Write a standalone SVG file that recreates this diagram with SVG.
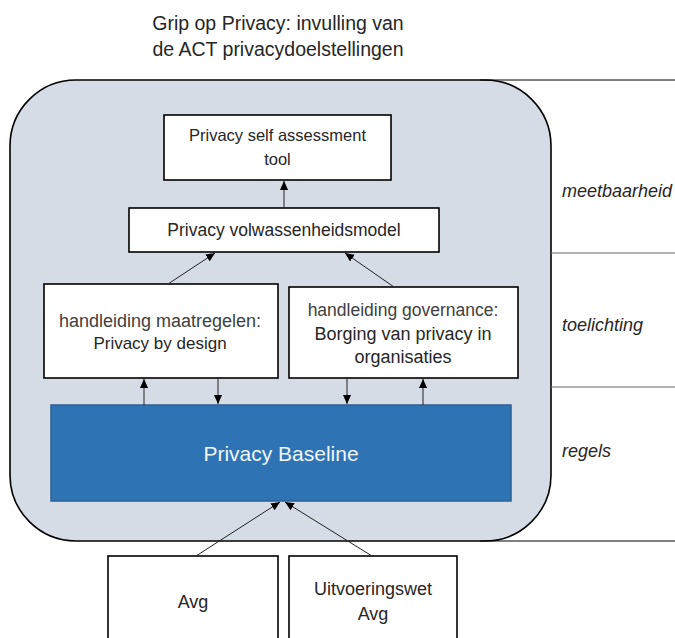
<svg xmlns="http://www.w3.org/2000/svg" width="675" height="638" viewBox="0 0 675 638">
<defs>
<style>
text{font-family:"Liberation Sans",Arial,sans-serif;fill:#262626}
.t{font-size:19.5px;text-anchor:middle}
.n{font-size:17.5px;text-anchor:middle}
.g{fill:#404040}
.lab{font-size:18px;font-style:italic}
.box{fill:#fff;stroke:#000;stroke-width:1.6}
.c{stroke:#222;stroke-width:1;fill:none;marker-end:url(#ah)}
.sep{stroke:#666;stroke-width:1}
</style>
<marker id="ah" viewBox="0 0 10 10" refX="10" refY="5" markerWidth="9" markerHeight="9" markerUnits="userSpaceOnUse" orient="auto">
<path d="M0,0.5 L10,5 L0,9.5 z" fill="#000"/>
</marker>
</defs>
<rect width="675" height="638" fill="#fff"/>
<text class="t" x="278" y="30">Grip op Privacy: invulling van</text>
<text class="t" x="278" y="56">de ACT privacydoelstellingen</text>

<g id="container">
<rect x="10" y="80" width="541" height="461" rx="66" ry="66" fill="#d6dce5" stroke="#000" stroke-width="1.6"/>
</g>
<g id="separators">
<line x1="480" y1="80" x2="675" y2="80" stroke="#000" stroke-width="1"/>
<line class="sep" x1="551" y1="253" x2="675" y2="253"/>
<line class="sep" x1="551" y1="387" x2="675" y2="387"/>
<line x1="480" y1="541" x2="675" y2="541" stroke="#000" stroke-width="1"/>
<text class="lab" x="562" y="197">meetbaarheid</text>
<text class="lab" x="562" y="331">toelichting</text>
<text class="lab" x="562" y="457">regels</text>
</g>

<g id="selfassessment">
<rect class="box" x="164" y="115" width="227" height="65"/>
<text class="n" x="277.5" y="141" style="font-size:16.5px">Privacy self assessment</text>
<text class="n" x="277.5" y="165" style="font-size:16.5px">tool</text>
</g>
<g id="volwassenheidsmodel">
<rect class="box" x="129" y="208" width="310" height="44"/>
<text class="n" x="284" y="236">Privacy volwassenheidsmodel</text>
</g>
<g id="maatregelen">
<rect class="box" x="44" y="284" width="234" height="94"/>
<text class="n g" x="160" y="327" style="font-size:18px">handleiding maatregelen:</text>
<text class="n" x="160" y="349" style="font-size:17px">Privacy by design</text>
</g>
<g id="governance">
<rect class="box" x="289" y="287" width="229" height="91"/>
<text class="n g" x="403" y="316">handleiding governance:</text>
<text class="n" x="403" y="340" style="font-size:18px">Borging van privacy in</text>
<text class="n" x="403" y="363" style="font-size:18px">organisaties</text>
</g>
<g id="baseline">
<rect x="51" y="405" width="460" height="96" fill="#2e74b5" stroke="#2a5f94" stroke-width="1.5"/>
<text x="281" y="461" style="font-size:21px;text-anchor:middle;fill:#f2f6fb">Privacy Baseline</text>
</g>
<g id="avg">
<rect class="box" x="108" y="556" width="170" height="90"/>
<text class="n" x="193" y="608" style="font-size:18px">Avg</text>
</g>
<g id="uitvoeringswet">
<rect class="box" x="289" y="556" width="168" height="90"/>
<text class="n" x="373" y="595" style="font-size:18px">Uitvoeringswet</text>
<text class="n" x="373" y="620" style="font-size:18px">Avg</text>
</g>

<g id="connectors">
<line class="c" x1="284" y1="208" x2="284" y2="181"/>
<line class="c" x1="168" y1="284" x2="215" y2="253"/>
<line class="c" x1="394" y1="287" x2="345" y2="253"/>
<line class="c" x1="144" y1="405" x2="144" y2="379"/>
<line class="c" x1="218" y1="378" x2="218" y2="404"/>
<line class="c" x1="347" y1="378" x2="347" y2="404"/>
<line class="c" x1="423" y1="405" x2="423" y2="379"/>
<line class="c" x1="196" y1="556" x2="280" y2="502"/>
<line class="c" x1="372" y1="556" x2="285" y2="502"/>
</g>
</svg>
